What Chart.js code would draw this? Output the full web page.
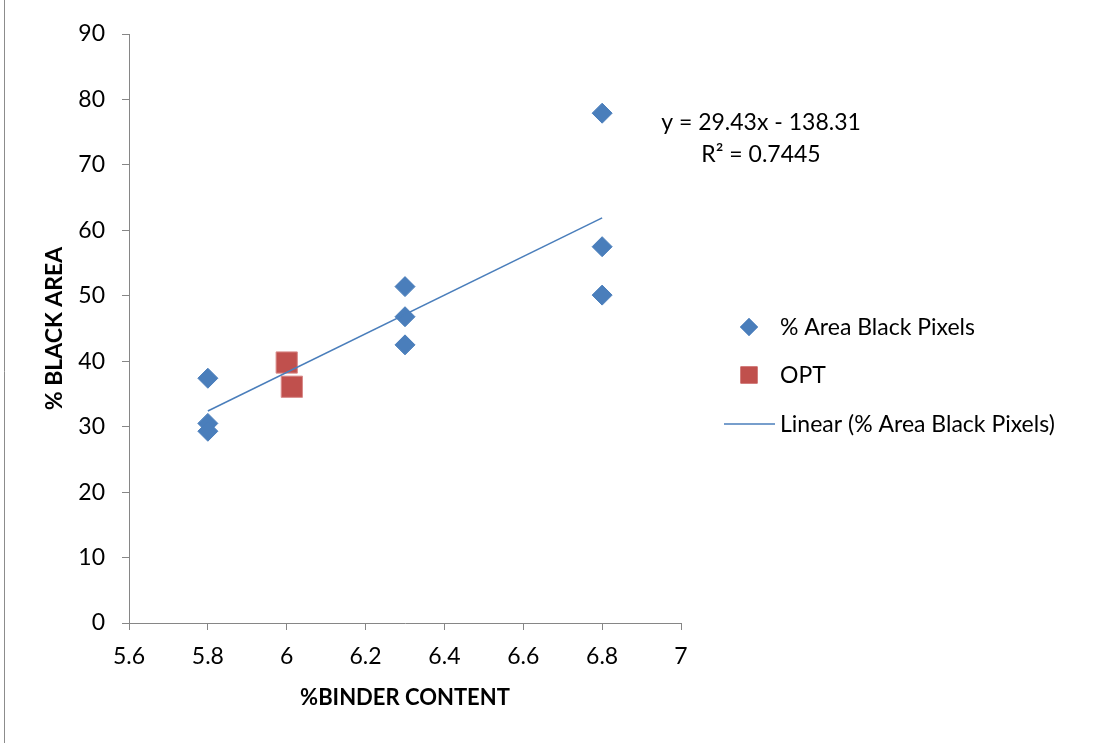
<!DOCTYPE html>
<html>
<head>
<meta charset="utf-8">
<script src="https://cdn.jsdelivr.net/npm/chart.js@4.4.1/dist/chart.umd.min.js"></script>
<style>
  html, body { margin: 0; padding: 0; background: #fff; }
  #wrap { width: 1101px; height: 743px; position: relative; }
</style>
</head>
<body>
<div id="wrap"><canvas id="myChart" width="1101" height="743"></canvas></div>
<script>
Chart.defaults.font.family = "Lato, 'Open Sans', sans-serif";
Chart.defaults.color = "#000";

// % binder content vs % black area (blue diamonds)
const binderX = [5.8, 5.8, 5.8, 6.3, 6.3, 6.3, 6.8, 6.8, 6.8];
const blackArea = [37.4, 30.5, 29.3, 51.4, 46.8, 42.5, 77.9, 57.5, 50.1];

// optimum points (red squares)
const optX = [6.0, 6.013];
const optY = [39.8, 36.1];

// linear trend line ends
const trendX = [5.8, 6.8];
const trendY = [32.4, 61.9];

const equationText = "y = 29.43x - 138.31";
const r2Text = "R\u00b2 = 0.7445";

const xTicks = [5.6, 5.8, 6.0, 6.2, 6.4, 6.6, 6.8, 7.0];

const blue = "#4A7EBB";
const red = "#C0504D";
const axisGray = "#868686";

const toPoints = (xs, ys) => xs.map((x, i) => ({ x: x, y: ys[i] }));

// frame line, equation label and legend drawn by hand
const extras = {
  id: "extras",
  beforeDraw(chart) {
    const c = chart.ctx;
    c.save();
    c.strokeStyle = "#8c8c8c";
    c.lineWidth = 1;
    c.beginPath();
    c.moveTo(4.5, 0);
    c.lineTo(4.5, chart.height);
    c.stroke();
    c.restore();
  },
  afterDraw(chart) {
    const c = chart.ctx;
    c.save();
    c.fillStyle = "#000";
    c.font = "23px Lato";
    c.textAlign = "center";
    c.textBaseline = "middle";
    c.fillText(equationText, 761, 123);
    c.fillText(r2Text, 761, 155);

    // legend
    const ds = chart.data.datasets;
    const rows = [327, 375, 424];
    c.textAlign = "left";
    ds.forEach((d, i) => {
      const y = rows[i];
      if (d.showLine) {
        c.strokeStyle = d.borderColor;
        c.lineWidth = d.borderWidth;
        c.beginPath();
        c.moveTo(724, y);
        c.lineTo(775, y);
        c.stroke();
      } else {
        c.fillStyle = d.backgroundColor;
        Chart.helpers.drawPoint(c, { pointStyle: d.pointStyle, radius: d.pointStyle === "rect" ? 12 : 9, borderWidth: 0 }, 749, y);
        c.fill();
      }
      c.fillStyle = "#000";
      c.fillText(d.label, 780, y + 1);
    });
    c.restore();
  },
};

const ctx = document.getElementById("myChart").getContext("2d");
const myChart = new Chart(ctx, {
  type: "scatter",
  data: {
    datasets: [
      {
        label: "% Area Black Pixels",
        data: toPoints(binderX, blackArea),
        pointStyle: "rectRot",
        pointRadius: 10,
        backgroundColor: blue,
        borderColor: blue,
        borderWidth: 1,
        order: 2,
      },
      {
        label: "OPT",
        data: toPoints(optX, optY),
        pointStyle: "rect",
        pointRadius: 15,
        backgroundColor: red,
        borderColor: "#D98A88",
        borderWidth: 1,
        order: 3,
      },
      {
        label: "Linear (% Area Black Pixels)",
        data: toPoints(trendX, trendY),
        showLine: true,
        pointRadius: 0,
        borderColor: blue,
        backgroundColor: blue,
        borderWidth: 1.5,
        order: 1,
      },
    ],
  },
  options: {
    responsive: false,
    animation: false,
    layout: {
      padding: { left: 37, top: 34, right: 420, bottom: 28 },
    },
    scales: {
      x: {
        type: "linear",
        min: 5.6,
        max: 7,
        afterBuildTicks: (scale) => {
          scale.ticks = xTicks.map((v) => ({ value: v }));
        },
        afterFit: (scale) => {
          scale.height = 92;
        },
        ticks: {
          padding: 13,
          font: { size: 23 },
          callback: (value) => String(Number(value.toFixed(1))),
        },
        grid: {
          drawOnChartArea: false,
          tickLength: 7,
          color: axisGray,
        },
        border: { color: axisGray },
        title: {
          display: true,
          text: "%BINDER CONTENT",
          font: { size: 22, weight: "bold" },
          padding: { top: 4, bottom: 4 },
        },
      },
      y: {
        min: 0,
        max: 90,
        afterFit: (scale) => {
          scale.width = 92;
        },
        ticks: {
          stepSize: 10,
          padding: 17,
          font: { size: 23 },
        },
        grid: {
          drawOnChartArea: false,
          tickLength: 7,
          color: axisGray,
        },
        border: { color: axisGray },
        title: {
          display: true,
          text: "% BLACK AREA",
          font: { size: 23, weight: "bold" },
          padding: { top: 4, bottom: 4 },
        },
      },
    },
    plugins: {
      legend: { display: false },
      tooltip: { enabled: false },
    },
  },
  plugins: [extras],
});
</script>
</body>
</html>
